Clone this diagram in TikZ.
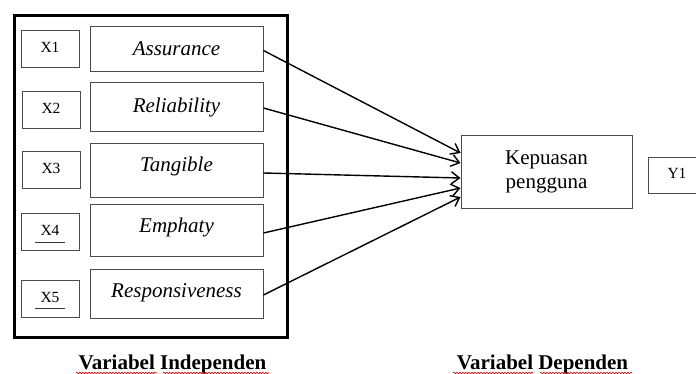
\documentclass[tikz,border=0pt]{standalone}
\usepackage{fontspec}
\setmainfont{Liberation Serif}
\usetikzlibrary{arrows.meta,calc,decorations.pathmorphing}
\begin{document}
\begin{tikzpicture}[x=1pt,y=-1pt,
  thinbox/.style={draw=black!70, line width=0.9pt, rectangle, inner sep=0pt},
  xbox/.style={thinbox, minimum width=58pt, minimum height=37pt,
    font=\fontsize{15.5}{18}\selectfont, text height=0.9em, text depth=0.1em},
  namebox/.style={thinbox, minimum width=173pt},
  namelbl/.style={font=\fontsize{21}{24}\selectfont\itshape,
    text height=0.68em, text depth=0.22em, inner sep=0pt},
  outerbox/.style={draw=black, line width=3pt},
  arr/.style={draw=black, line width=1.4pt, -{Straight Barb[length=8pt,width=12pt]}},
  ulinestyle/.style={draw=black!80, line width=0.9pt},
  squiggle/.style={draw=red!85!black, line width=0.6pt, decorate,
    decoration={snake, amplitude=0.8pt, segment length=3pt}},
  caption/.style={anchor=base, font=\fontsize{21}{24}\selectfont\bfseries, inner sep=0pt}
]
\useasboundingbox (0,0) rectangle (696,374);

% outer frame
\draw[outerbox] (14,15.5) rectangle (287.7,337);

% X boxes
\node[xbox] (x1) at (50,49) {X1};
\node[xbox] (x2) at (51,109.5) {X2};
\node[xbox] (x3) at (51,170) {X3};
\node[xbox] (x4) at (50,231.5) {X4};
\node[xbox] (x5) at (50,298.5) {X5};
\draw[ulinestyle] ($(x4.center)+(-15,10.5)$) -- ($(x4.center)+(15,10.5)$);
\draw[ulinestyle] ($(x5.center)+(-15,9.5)$) -- ($(x5.center)+(15,9.5)$);

% variable boxes
\node[namebox, minimum height=45pt,
  label={[namelbl, name=lA, yshift=-4.5pt]center:Assurance}] (nA) at (176.5,48.5) {};
\node[namebox, minimum height=49pt,
  label={[namelbl, name=lB, yshift=-3.5pt]center:Reliability}] (nB) at (176.5,106.5) {};
\node[namebox, minimum height=54pt,
  label={[namelbl, name=lC, yshift=1pt]center:Tangible}] (nC) at (176.5,170) {};
\node[namebox, minimum height=52pt,
  label={[namelbl, name=lD, yshift=0pt]center:Emphaty}] (nD) at (176.5,230) {};
\node[namebox, minimum height=49pt,
  label={[namelbl, name=lE, yshift=-1.5pt]center:Responsiveness}] (nE) at (176.5,293.5) {};

% dependent
\node[thinbox, minimum width=171pt, minimum height=73pt, align=center,
  font=\fontsize{21}{24}\selectfont] (nK) at (546.5,171.5) {Kepuasan\\pengguna};
\node[xbox, minimum width=58pt, minimum height=36pt] (y1) at (677,175) {Y1};

% arrows
\draw[arr] ([yshift=-2pt]nA.east) -- ([yshift=18.5pt]nK.west);
\draw[arr] ([yshift=-1.5pt]nB.east) -- ([yshift=8.5pt]nK.west);
\draw[arr] ([yshift=-3pt]nC.east) -- ([yshift=-6.5pt]nK.west);
\draw[arr] ([yshift=-3pt]nD.east) -- ([yshift=-16.5pt]nK.west);
\draw[arr] ([yshift=-1.5pt]nE.east) -- ([yshift=-25.5pt]nK.west);

% captions
\node[caption] (cI) at (172.5,369) {Variabel Independen};
\node[caption] (cD) at (542.5,369) {Variabel Dependen};
\draw[squiggle] (76,373) -- (157,373);
\draw[squiggle] (163,373) -- (269,373);
\draw[squiggle] (453,373) -- (533,373);
\draw[squiggle] (540,373) -- (632,373);
\end{tikzpicture}
\end{document}
